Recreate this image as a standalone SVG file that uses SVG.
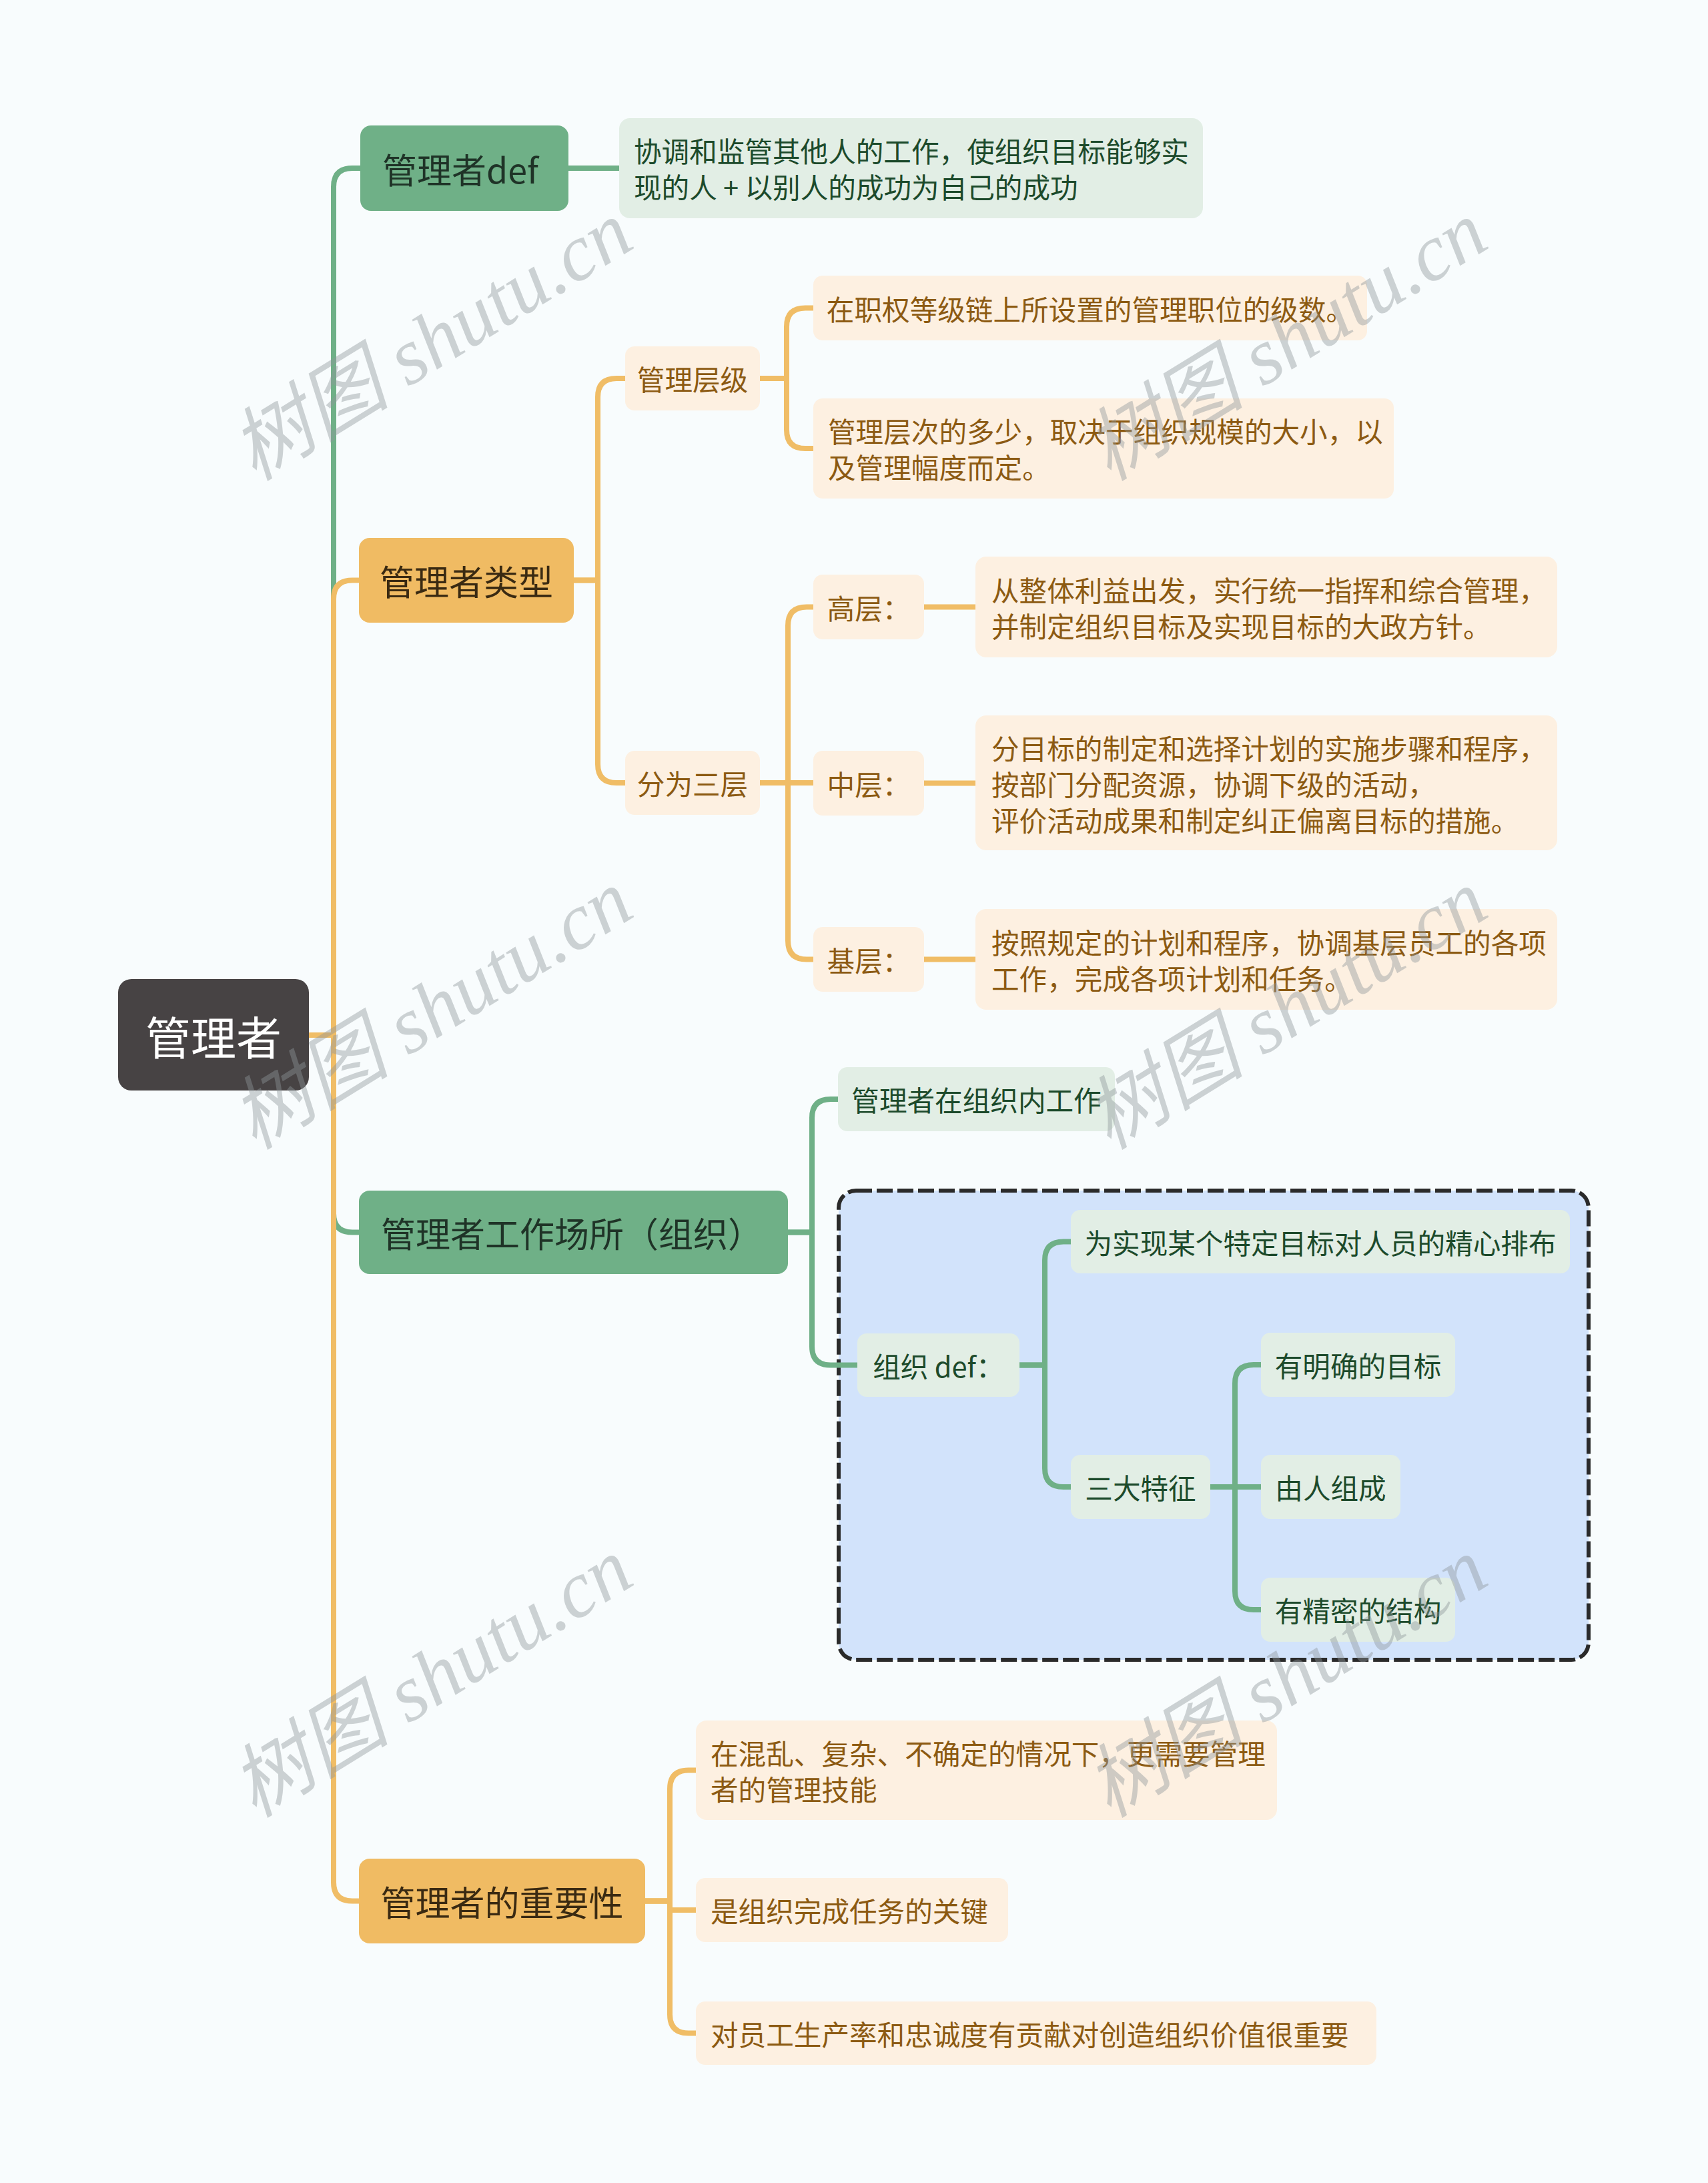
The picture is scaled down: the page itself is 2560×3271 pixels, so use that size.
<svg xmlns="http://www.w3.org/2000/svg" width="2560" height="3271" viewBox="0 0 2560 3271">
<style>
text{font-family:"Noto Sans CJK SC","Noto Sans",sans-serif;dominant-baseline:central}
.root rect{fill:#474344}
.root text{fill:#ffffff;font-size:68px;text-anchor:middle}
.g1 rect{fill:#6fb087}
.g1 text{fill:#1f3327;font-size:52px;text-anchor:middle}
.o1 rect{fill:#f0bb63}
.o1 text{fill:#3a2a12;font-size:52px;text-anchor:middle}
.g2 rect{fill:#e2eee5}
.g2 text{fill:#1c4a2b;font-size:41.6px}
.o2 rect{fill:#fdf0e1}
.o2 text{fill:#8c5a12;font-size:41.6px}
.c{text-anchor:middle}
.lg{fill:none;stroke:#6fb087;stroke-width:8;stroke-linejoin:round}
.lo{fill:none;stroke:#f0bd66;stroke-width:8;stroke-linejoin:round}
.wm{font-family:"Liberation Serif","Noto Sans CJK SC",serif;font-style:italic;font-size:120px;fill:#8f979b;opacity:0.42;text-anchor:middle}
</style>
<rect x="0" y="0" width="2560" height="3271" fill="#f8fcfd"/>

<g id="org-frame">
<rect x="1257" y="1784" width="1124" height="703" rx="26" fill="#d2e3fb" stroke="#2a2a2a" stroke-width="6" stroke-dasharray="24 7"/>
</g>

<g id="connectors">
<path class="lg" d="M463 1551 H500 V280 Q500 252 528 252 H540"/>
<path class="lg" d="M463 1551 H500 V1818.5 Q500 1846.5 528 1846.5 H538"/>
<path class="lo" d="M463 1551 H500 V897.5 Q500 869.5 528 869.5 H538"/>
<path class="lo" d="M463 1551 H500 V2820.5 Q500 2848.5 528 2848.5 H538"/>
<path class="lg" d="M852 252 H928"/>
<path class="lo" d="M860 869.5 H896 V595 Q896 567 924 567 H937"/>
<path class="lo" d="M860 869.5 H896 V1145 Q896 1173 924 1173 H937"/>
<path class="lo" d="M1139 567 H1179 V489.5 Q1179 461.5 1207 461.5 H1219"/>
<path class="lo" d="M1139 567 H1179 V644 Q1179 672 1207 672 H1219"/>
<path class="lo" d="M1139 1173 H1181 V937.5 Q1181 909.5 1209 909.5 H1219"/>
<path class="lo" d="M1139 1173 H1219"/>
<path class="lo" d="M1139 1173 H1181 V1409.5 Q1181 1437.5 1209 1437.5 H1219"/>
<path class="lo" d="M1385 909.5 H1462"/>
<path class="lo" d="M1385 1173.5 H1462"/>
<path class="lo" d="M1385 1437.5 H1462"/>
<path class="lg" d="M1181 1846.5 H1217 V1675 Q1217 1647 1245 1647 H1256"/>
<path class="lg" d="M1181 1846.5 H1217 V2017.5 Q1217 2045.5 1245 2045.5 H1285"/>
<path class="lg" d="M1528 2045.5 H1566 V1888.5 Q1566 1860.5 1594 1860.5 H1605"/>
<path class="lg" d="M1528 2045.5 H1566 V2200 Q1566 2228 1594 2228 H1605"/>
<path class="lg" d="M1814 2228 H1851 V2073 Q1851 2045 1879 2045 H1890"/>
<path class="lg" d="M1814 2228 H1890"/>
<path class="lg" d="M1814 2228 H1851 V2384 Q1851 2412 1879 2412 H1890"/>
<path class="lo" d="M967 2848.5 H1004 V2680.5 Q1004 2652.5 1032 2652.5 H1043"/>
<path class="lo" d="M967 2848.5 H1004 V2862 H1043"/>
<path class="lo" d="M967 2848.5 H1004 V3018.5 Q1004 3046.5 1032 3046.5 H1043"/>
</g>

<g id="root" class="root"><rect x="177" y="1467" width="286" height="167" rx="20"/><text x="320" y="1551">管理者</text></g>

<g id="n-def" class="g1"><rect x="540" y="188" width="312" height="128" rx="16"/><text x="690" y="252">管理者def</text></g>
<g id="n-type" class="o1"><rect x="538" y="806" width="322" height="127" rx="16"/><text x="699" y="869.5">管理者类型</text></g>
<g id="n-place" class="g1"><rect x="538" y="1784" width="643" height="125" rx="16"/><text x="857" y="1846.5">管理者工作场所（组织）</text></g>
<g id="n-imp" class="o1"><rect x="538" y="2785" width="429" height="127" rx="16"/><text x="752.5" y="2848.5">管理者的重要性</text></g>

<g id="n-def-desc" class="g2"><rect x="928" y="177" width="875" height="150" rx="16"/><text x="950" y="225">协调和监管其他人的工作，使组织目标能够实</text><text x="950" y="279">现的人 + 以别人的成功为自己的成功</text></g>

<g id="n-levels" class="o2"><rect x="937" y="519" width="202" height="96" rx="14"/><text class="c" x="1038" y="567">管理层级</text></g>
<g id="n-three" class="o2"><rect x="937" y="1125" width="202" height="96" rx="14"/><text class="c" x="1038" y="1173">分为三层</text></g>
<g id="n-levels-1" class="o2"><rect x="1219" y="413" width="830" height="97" rx="14"/><text class="c" x="1634" y="461.5">在职权等级链上所设置的管理职位的级数。</text></g>
<g id="n-levels-2" class="o2"><rect x="1219" y="597" width="870" height="150" rx="14"/><text x="1241" y="645">管理层次的多少，取决于组织规模的大小，以</text><text x="1241" y="699">及管理幅度而定。</text></g>
<g id="n-high" class="o2"><rect x="1219" y="861" width="166" height="97" rx="14"/><text class="c" x="1302" y="909.5">高层：</text></g>
<g id="n-mid" class="o2"><rect x="1219" y="1125" width="166" height="97" rx="14"/><text class="c" x="1302" y="1173.5">中层：</text></g>
<g id="n-base" class="o2"><rect x="1219" y="1389" width="166" height="97" rx="14"/><text class="c" x="1302" y="1437.5">基层：</text></g>
<g id="n-high-desc" class="o2"><rect x="1462" y="834" width="872" height="151" rx="16"/><text x="1486" y="882.5">从整体利益出发，实行统一指挥和综合管理，</text><text x="1486" y="936.5">并制定组织目标及实现目标的大政方针。</text></g>
<g id="n-mid-desc" class="o2"><rect x="1462" y="1072" width="872" height="202" rx="16"/><text x="1486" y="1120">分目标的制定和选择计划的实施步骤和程序，</text><text x="1486" y="1174">按部门分配资源，协调下级的活动，</text><text x="1486" y="1228">评价活动成果和制定纠正偏离目标的措施。</text></g>
<g id="n-base-desc" class="o2"><rect x="1462" y="1362" width="872" height="151" rx="16"/><text x="1486" y="1410.5">按照规定的计划和程序，协调基层员工的各项</text><text x="1486" y="1464.5">工作，完成各项计划和任务。</text></g>

<g id="n-inorg" class="g2"><rect x="1256" y="1599" width="415" height="96" rx="14"/><text class="c" x="1463.5" y="1647">管理者在组织内工作</text></g>
<g id="n-orgdef" class="g2"><rect x="1285" y="1998" width="243" height="95" rx="14"/><text class="c" x="1406.5" y="2045.5">组织 def：</text></g>
<g id="n-arrange" class="g2"><rect x="1605" y="1813" width="748" height="95" rx="14"/><text class="c" x="1979" y="1860.5">为实现某个特定目标对人员的精心排布</text></g>
<g id="n-three-feat" class="g2"><rect x="1605" y="2180" width="209" height="96" rx="14"/><text class="c" x="1709.5" y="2228">三大特征</text></g>
<g id="n-goal" class="g2"><rect x="1890" y="1997" width="291" height="96" rx="14"/><text class="c" x="2035.5" y="2045">有明确的目标</text></g>
<g id="n-people" class="g2"><rect x="1890" y="2180" width="209" height="96" rx="14"/><text class="c" x="1994.5" y="2228">由人组成</text></g>
<g id="n-struct" class="g2"><rect x="1890" y="2364" width="291" height="96" rx="14"/><text class="c" x="2035.5" y="2412">有精密的结构</text></g>

<g id="n-imp-1" class="o2"><rect x="1043" y="2578" width="871" height="149" rx="16"/><text x="1065" y="2625.5">在混乱、复杂、不确定的情况下，更需要管理</text><text x="1065" y="2679.5">者的管理技能</text></g>
<g id="n-imp-2" class="o2"><rect x="1043" y="2814" width="468" height="96" rx="14"/><text x="1065" y="2862">是组织完成任务的关键</text></g>
<g id="n-imp-3" class="o2"><rect x="1043" y="2999" width="1020" height="95" rx="14"/><text x="1065" y="3046.5">对员工生产率和忠诚度有贡献对创造组织价值很重要</text></g>

<g id="watermarks">
<text class="wm" transform="translate(647,511) rotate(-31.6)">树图 shutu.cn</text>
<text class="wm" transform="translate(1928,511) rotate(-31.6)">树图 shutu.cn</text>
<text class="wm" transform="translate(647,1513) rotate(-31.6)">树图 shutu.cn</text>
<text class="wm" transform="translate(1928,1513) rotate(-31.6)">树图 shutu.cn</text>
<text class="wm" transform="translate(647,2514) rotate(-31.6)">树图 shutu.cn</text>
<text class="wm" transform="translate(1928,2514) rotate(-31.6)">树图 shutu.cn</text>
</g>
</svg>
